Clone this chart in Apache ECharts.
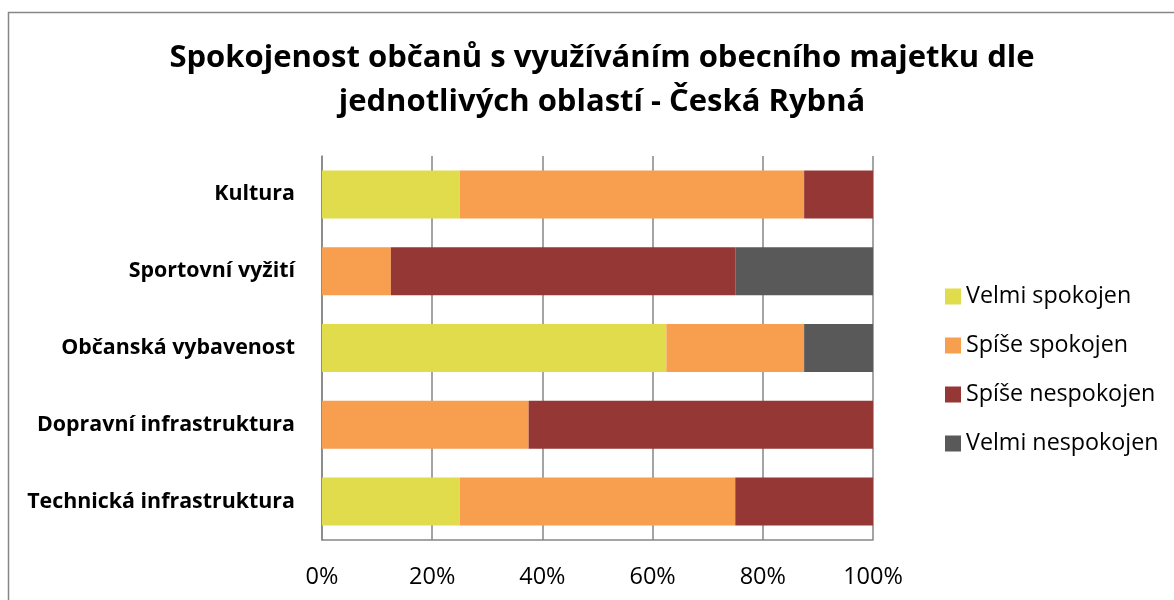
<!DOCTYPE html>
<html>
<head>
<meta charset="utf-8">
<script src="https://cdn.jsdelivr.net/npm/echarts@6/dist/echarts.min.js"></script>
<style>
html,body{margin:0;padding:0;background:#fff;}
#c{width:1174px;height:600px;}
</style>
</head>
<body>
<div id="c"></div>
<script>
const categories = ['Kultura', 'Sportovní vyžití', 'Občanská vybavenost', 'Dopravní infrastruktura', 'Technická infrastruktura'];
const seriesNames = ['Velmi spokojen', 'Spíše spokojen', 'Spíše nespokojen', 'Velmi nespokojen'];
const velmiSpokojen = [25, 0, 62.5, 0, 25];
const spiseSpokojen = [62.5, 12.5, 25, 37.5, 50];
const spiseNespokojen = [12.5, 62.5, 0, 62.5, 25];
const velmiNespokojen = [0, 25, 12.5, 0, 0];
const xTicks = [0, 20, 40, 60, 80, 100];
const colors = ['#E0DC4B', '#F79E4F', '#953735', '#595959'];

const values = [velmiSpokojen, spiseSpokojen, spiseNespokojen, velmiNespokojen];
const font = '"Open Sans", Lato, sans-serif';

const chart = echarts.init(document.getElementById('c'), null, {renderer: 'canvas'});
chart.setOption({
  animation: false,
  backgroundColor: '#fff',
  graphic: [{
    type: 'rect',
    shape: {x: 8.5, y: 12.5, width: 1200, height: 700},
    style: {fill: 'none', stroke: '#868686', lineWidth: 1.5},
    silent: true
  }],
  title: {
    text: 'Spokojenost občanů s využíváním obecního majetku dle\njednotlivých oblastí - Česká Rybná',
    left: 597,
    textAlign: 'center',
    top: 31,
    textStyle: {fontFamily: font, fontWeight: 'bold', fontSize: 31, lineHeight: 44, color: '#000'}
  },
  legend: {
    orient: 'vertical',
    left: 945,
    top: 285,
    padding: 0,
    itemWidth: 16,
    itemHeight: 16,
    itemGap: 26,
    icon: 'rect',
    textStyle: {fontFamily: font, fontSize: 23.3, color: '#000', lineHeight: 21},
    data: seriesNames
  },
  grid: {left: 322, right: 301, top: 156, bottom: 60, containLabel: false},
  xAxis: {
    type: 'value',
    min: 0,
    max: 100,
    interval: 20,
    axisLine: {show: true, lineStyle: {color: '#868686', width: 1.5}},
    axisTick: {show: false},
    splitLine: {show: true, lineStyle: {color: '#868686', width: 1.5}},
    axisLabel: {
      formatter: function (v) { return xTicks.indexOf(v) >= 0 ? v + '%' : ''; },
      fontFamily: font, fontSize: 23.5, color: '#000', margin: 25
    }
  },
  yAxis: {
    type: 'category',
    inverse: true,
    data: categories,
    axisLine: {show: true, lineStyle: {color: '#868686', width: 1.5}},
    axisTick: {show: false},
    axisLabel: {fontFamily: font, fontWeight: 'bold', fontSize: 21.4, color: '#000', margin: 27}
  },
  series: seriesNames.map(function (name, i) {
    return {
      name: name,
      type: 'bar',
      stack: 'total',
      barWidth: 48,
      itemStyle: {color: colors[i]},
      data: values[i]
    };
  })
});
</script>
</body>
</html>
